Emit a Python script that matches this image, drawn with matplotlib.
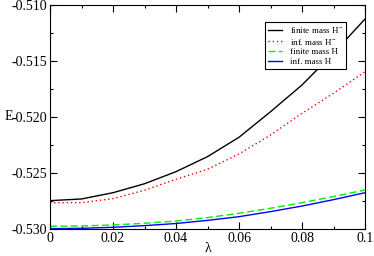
import matplotlib
matplotlib.use("Agg")
import matplotlib.pyplot as plt
from matplotlib.ticker import MultipleLocator

plt.rcParams['font.family'] = ['Liberation Serif', 'DejaVu Serif']
plt.rcParams['mathtext.fontset'] = 'custom'
plt.rcParams['mathtext.rm'] = 'Liberation Serif'

lam = [0.0, 0.01, 0.02, 0.03, 0.04, 0.05, 0.06, 0.07, 0.08, 0.09, 0.1]

# energies
e_finite_hm = [-0.52747, -0.52732, -0.52676, -0.52596, -0.52488, -0.52354,
               -0.52181, -0.51953, -0.51714, -0.51430, -0.51125]
e_inf_hm = [-0.52766, -0.52765, -0.52729, -0.52654, -0.52556, -0.52467,
            -0.52330, -0.52161, -0.51967, -0.51788, -0.51596]
e_finite_h = [-0.52976, -0.52973, -0.52964, -0.52949, -0.52929, -0.52898,
              -0.52860, -0.52815, -0.52765, -0.52710, -0.52652]
e_inf_h = [-0.52997, -0.52994, -0.52985, -0.52970, -0.52951, -0.52923,
           -0.52890, -0.52845, -0.52795, -0.52738, -0.52676]

fig = plt.figure(figsize=(3.74, 2.56), dpi=100)
ax = fig.add_axes([0.1337, 0.1055, 0.8423, 0.875])

ax.plot(lam, e_finite_hm, color='black', lw=1.0, label='finite mass H$^{-}$')
ax.plot(lam, e_inf_hm, color='red', lw=1.0, ls=(0, (1, 2)), label='inf. mass H$^{-}$')
ax.plot(lam, e_finite_h, color='#00ee00', lw=1.0, ls=(0, (5, 2.5)), label='finite mass H')
ax.plot(lam, e_inf_h, color='blue', lw=1.0, label='inf. mass H')

ax.set_xlim(0, 0.1)
ax.set_ylim(-0.530, -0.510)
ax.xaxis.set_major_locator(MultipleLocator(0.02))
ax.xaxis.set_minor_locator(MultipleLocator(0.01))
ax.yaxis.set_major_locator(MultipleLocator(0.005))
ax.yaxis.set_minor_locator(MultipleLocator(0.0025))
ax.set_xticks([0, 0.02, 0.04, 0.06, 0.08, 0.1])
ax.set_xticklabels(['0', '0.02', '0.04', '0.06', '0.08', '0.1'])
ax.set_yticks([-0.530, -0.525, -0.520, -0.515, -0.510])
ax.set_yticklabels(['-0.530', '-0.525', '-0.520', '-0.515', '-0.510'])
ax.tick_params(which='both', direction='in', top=True, right=True, labelsize=10, pad=2)
ax.tick_params(which='major', length=5, width=0.8)
ax.tick_params(which='minor', length=2.5, width=0.8)

ax.set_xlabel('λ', fontsize=10, labelpad=-2)
ax.set_ylabel('E', fontsize=10, rotation=0, labelpad=2, va='center')

leg = ax.legend(loc='upper right', bbox_to_anchor=(0.94, 0.924), borderaxespad=0,
                fontsize=6.5, frameon=True, fancybox=False, edgecolor='black',
                framealpha=1, handlelength=1.6, handletextpad=0.8, borderpad=0.35,
                labelspacing=0.15)
leg.get_frame().set_linewidth(0.8)

fig.savefig('out.png', dpi=100)
